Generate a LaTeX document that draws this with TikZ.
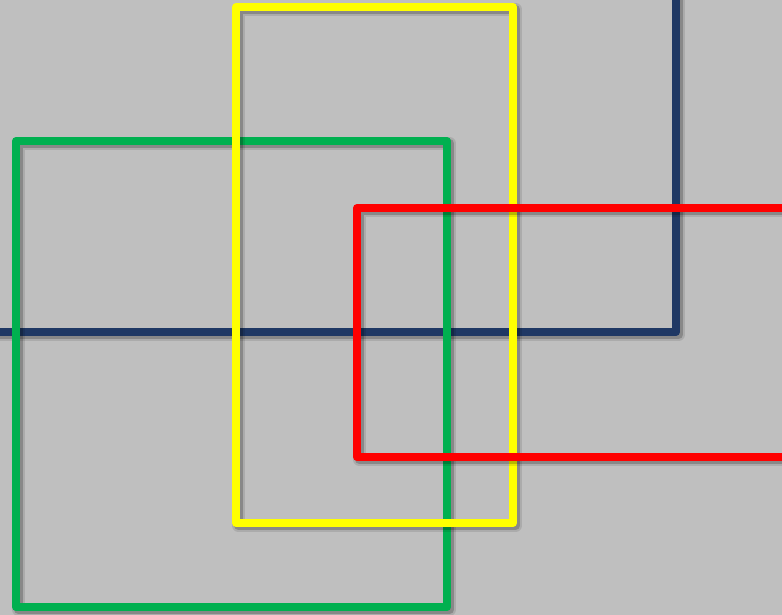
\documentclass[tikz,border=0pt]{standalone}
\usepackage{tikz}
\definecolor{bgray}{HTML}{BFBFBF}
\definecolor{navy}{HTML}{1F3864}
\definecolor{lgreen}{HTML}{00B050}
\definecolor{lyellow}{HTML}{FFFF00}
\definecolor{lred}{HTML}{FF0000}

\begin{document}
\begin{tikzpicture}[x=1pt,y=-1pt,
    frame/.style={line width=8pt,line join=round},
    shadowed/.style={
      preaction={draw=black,opacity=0.10,line width=13.5pt,line join=round,
        transform canvas={shift={(2.5pt,-2.5pt)}}},
      preaction={draw=black,opacity=0.20,line width=9.5pt,line join=round,
        transform canvas={shift={(2.5pt,-2.5pt)}}}}]
  \useasboundingbox (0,0) rectangle (782,615);
  \clip (0,0) rectangle (782,615);
  \fill[bgray] (0,0) rectangle (782,615);
  % dark line, lowest layer
  \draw[frame,shadowed,navy] (-10,332) -- (676,332) -- (676,-10);
  % three frames, bottom to top
  \draw[frame,shadowed,lgreen] (16,141) rectangle (447,607);
  \draw[frame,shadowed,lyellow] (236,7) rectangle (513,523);
  \draw[frame,shadowed,lred] (357,208) rectangle (800,457);
\end{tikzpicture}
\end{document}
